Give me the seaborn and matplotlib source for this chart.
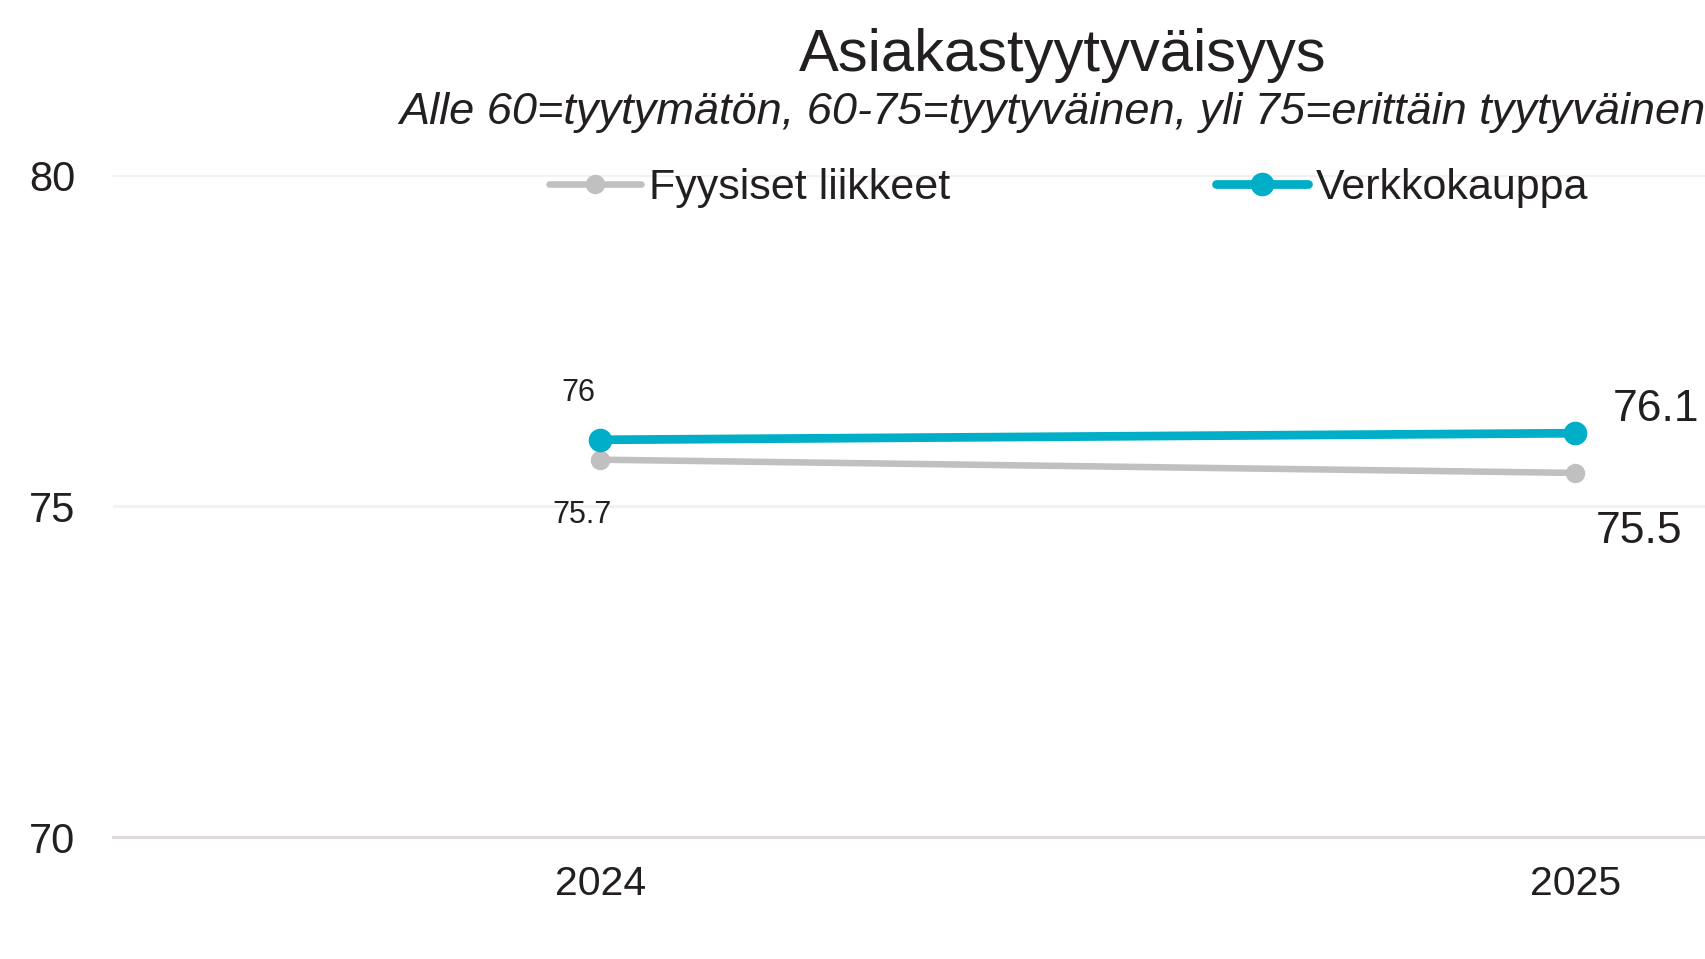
import pandas as pd
import matplotlib
matplotlib.use("Agg")
import matplotlib.pyplot as plt
import seaborn as sns

years = [2024, 2025]
fyysiset = [75.7, 75.5]
verkko = [76.0, 76.1]
series_names = ["Fyysiset liikkeet", "Verkkokauppa"]
colors = {"Fyysiset liikkeet": "#c0c0c0", "Verkkokauppa": "#00aec7"}
title = "Asiakastyytyväisyys"
subtitle = "Alle 60=tyytymätön, 60-75=tyytyväinen, yli 75=erittäin tyytyväinen"

df = pd.DataFrame({
    "vuosi": years * 2,
    "arvo": fyysiset + verkko,
    "sarja": [series_names[0]] * 2 + [series_names[1]] * 2,
})

sns.set_theme(style="white")
plt.rcParams["font.family"] = ["Liberation Sans", "DejaVu Sans"]
txt = "#231f20"

fig = plt.figure(figsize=(17.06, 9.59), dpi=100)
ax = fig.add_axes([0.0662, 0.1272, 0.9338, 0.6903])

sizes = {"Fyysiset liikkeet": (4.7, 14), "Verkkokauppa": (6.3, 17)}
for name in series_names:
    sub = df[df["sarja"] == name]
    lw, ms = sizes[name]
    sns.lineplot(data=sub, x="vuosi", y="arvo", ax=ax, color=colors[name],
                 linewidth=lw, marker="o", markersize=ms, markeredgewidth=0,
                 label=name, zorder=3 if name == "Verkkokauppa" else 2)

ax.set_xlim(2023.5, 2025.134)
ax.set_ylim(70, 80)
ax.set_xticks(years)
ax.set_xticklabels([str(y) for y in years])
ax.set_yticks([70, 75, 80])
ax.set_xlabel("")
ax.set_ylabel("")
ax.tick_params(axis="y", length=0, pad=27, labelsize=30, labelcolor=txt)
ax.tick_params(axis="x", length=0, pad=20, labelsize=29.5, labelcolor=txt)
for s in ["top", "right", "left"]:
    ax.spines[s].set_visible(False)
ax.spines["bottom"].set_color("#e0dada")
ax.spines["bottom"].set_linewidth(2.2)
for yv in [75, 80]:
    ax.axhline(yv, color="#f2f2f2", linewidth=2.2, zorder=0)

# data labels: small ones for 2024, big ones for 2025
small = 22
big = 32
ax.annotate(f"{verkko[0]:g}", (years[0], verkko[0]), xytext=(-16, 34),
            textcoords="offset points", ha="center", va="center",
            fontsize=small, color=txt)
ax.annotate(f"{fyysiset[0]:g}", (years[0], fyysiset[0]), xytext=(-13, -40),
            textcoords="offset points", ha="center", va="center",
            fontsize=small, color=txt)
ax.annotate(f"{verkko[1]:g}", (years[1], verkko[1]), xytext=(58, 17),
            textcoords="offset points", ha="center", va="center",
            fontsize=big, color=txt, annotation_clip=False)
ax.annotate(f"{fyysiset[1]:g}", (years[1], fyysiset[1]), xytext=(46, -42),
            textcoords="offset points", ha="center", va="center",
            fontsize=big, color=txt, annotation_clip=False)

ax.legend(loc="center left", bbox_to_anchor=(549 / 1706, 1 - 188 / 959),
          bbox_transform=fig.transFigure, ncol=2, frameon=False, fontsize=31,
          handlelength=2.14, handletextpad=0.18, columnspacing=6.18,
          borderpad=0, borderaxespad=0, labelcolor=txt)

fig.text(1063 / 1706, 1 - 71 / 959, title, ha="center", va="baseline",
         fontsize=43, color=txt)
fig.text(399 / 1706, 1 - 124 / 959, subtitle, ha="left", va="baseline",
         fontsize=32.5, style="italic", color=txt)

fig.savefig("out.png", dpi=100, facecolor="white")
